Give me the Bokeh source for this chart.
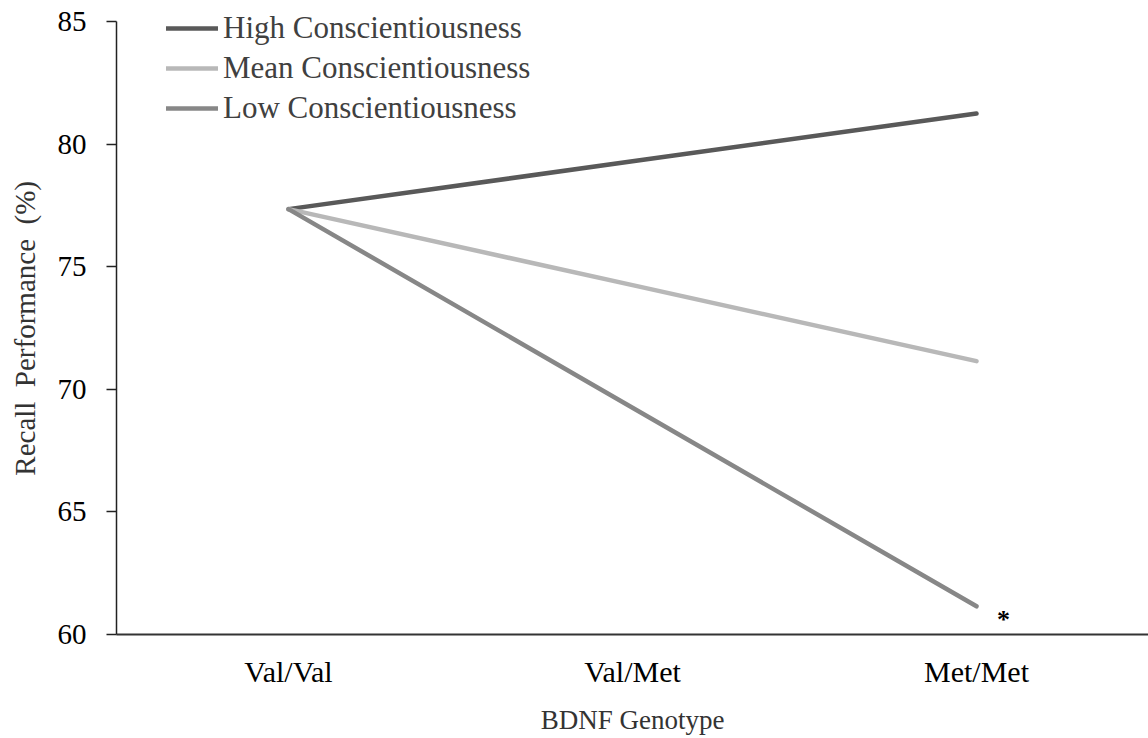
from bokeh.plotting import figure
from bokeh.models import Legend, LegendItem, Range1d, FactorRange, ColumnDataSource
from bokeh.core.properties import value
from bokeh.embed import file_html
from bokeh.resources import INLINE

# Recall performance (%) by BDNF genotype at three levels of conscientiousness
genotypes = ["Val/Val", "Val/Met", "Met/Met"]
high_consc = [77.35, 79.3, 81.25]
mean_consc = [77.35, 74.25, 71.15]
low_consc = [77.35, 69.25, 61.15]

series_names = ["High Conscientiousness", "Mean Conscientiousness", "Low Conscientiousness"]
series_colors = ["#595959", "#b8b8b8", "#878787"]

y_ticks = [60, 65, 70, 75, 80, 85]

FONT = "Liberation Serif"

# the frame reaches a little above 85 so the legend has room; the axis itself stops at 85
p = figure(
    width=1148, height=738,
    x_range=FactorRange(*genotypes, range_padding=0),
    y_range=Range1d(60, 85.86),
    output_backend="svg", toolbar_location=None,
)
p.min_border_left = 116
p.min_border_right = 0
p.min_border_top = 0
p.min_border_bottom = 104
p.outline_line_color = None
p.xgrid.visible = False
p.ygrid.visible = False
p.background_fill_color = "white"
p.border_fill_color = "white"

items = []
for name, vals, col in zip(series_names, [high_consc, mean_consc, low_consc], series_colors):
    src = ColumnDataSource(dict(x=genotypes, y=vals))
    r = p.line("x", "y", source=src, line_color=col, line_width=4.5,
               line_cap="round", line_join="round")
    items.append(LegendItem(label=name, renderers=[r]))

# significance marker next to the Met/Met end of the low-conscientiousness line
p.text(x=["Met/Met"], y=[60.6], text=["*"], text_font=value(FONT),
       text_font_size="26px", text_font_style="bold", text_color="black",
       text_align="center", text_baseline="middle", x_offset=27)

legend = Legend(items=items, location=(50, 506))
legend.border_line_color = None
legend.background_fill_alpha = 0
legend.padding = 0
legend.margin = 0
legend.spacing = 0
legend.glyph_width = 52
legend.glyph_height = 40
legend.label_height = 40
legend.label_standoff = 5
legend.label_text_font = FONT
legend.label_text_font_size = "31px"
legend.label_text_color = "#404040"
p.add_layout(legend, "center")

# y axis (trailing spaces nudge the centred label down toward the axis middle)
ya = p.yaxis[0]
ya.axis_label = "Recall\u00a0\u00a0Performance\u00a0\u00a0(%)\u00a0\u00a0\u00a0"
ya.axis_label_text_font = FONT
ya.axis_label_text_font_style = "normal"
ya.axis_label_text_font_size = "29px"
ya.axis_label_text_color = "#333333"
ya.axis_label_standoff = 14
ya.major_label_text_font = FONT
ya.major_label_text_font_size = "29px"
ya.major_label_text_color = "black"
ya.major_label_standoff = 20
ya.major_tick_out = 10
ya.major_tick_in = 0
ya.minor_tick_line_color = None
ya.axis_line_color = "#222222"
ya.axis_line_width = 1.5
ya.major_tick_line_color = "#222222"
ya.major_tick_line_width = 1.5
ya.ticker = y_ticks
ya.bounds = (y_ticks[0], y_ticks[-1])

# x axis
xa = p.xaxis[0]
xa.axis_label = "BDNF Genotype"
xa.axis_label_text_font = FONT
xa.axis_label_text_font_style = "normal"
xa.axis_label_text_font_size = "27px"
xa.axis_label_text_color = "#333333"
xa.axis_label_standoff = 14
xa.major_label_text_font = FONT
xa.major_label_text_font_size = "30px"
xa.major_label_text_color = "black"
xa.major_label_standoff = 14
xa.major_tick_line_color = None
xa.minor_tick_line_color = None
xa.axis_line_color = "#333333"
xa.axis_line_width = 2

open("out.html", "w").write(file_html(p, INLINE))
